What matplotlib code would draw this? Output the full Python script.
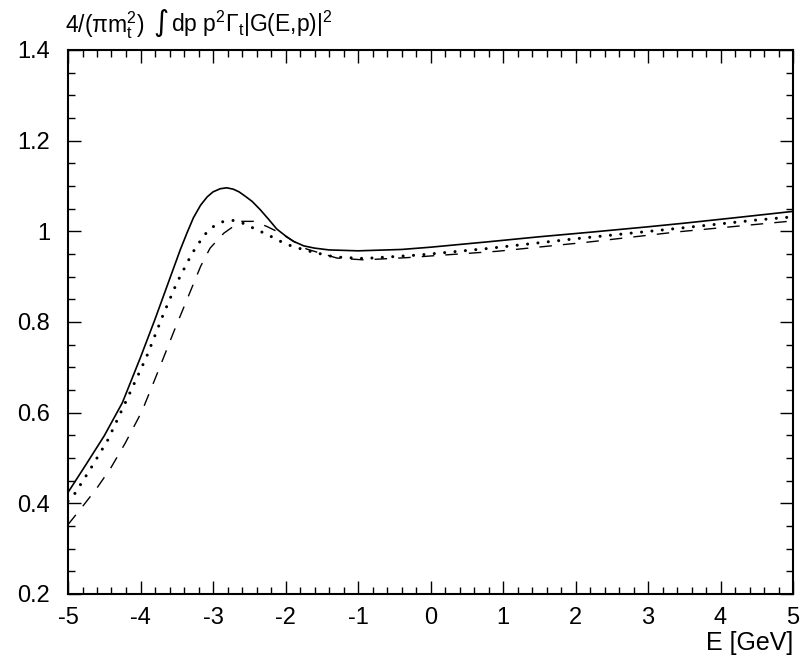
import matplotlib
matplotlib.use("Agg")
import matplotlib.pyplot as plt
from matplotlib.ticker import MultipleLocator, FuncFormatter

plt.rcParams['font.family'] = ['Liberation Sans', 'DejaVu Sans']
plt.rcParams['mathtext.fontset'] = 'custom'
plt.rcParams['mathtext.rm'] = 'Liberation Sans'
plt.rcParams['mathtext.it'] = 'Liberation Sans'
plt.rcParams['mathtext.sf'] = 'Liberation Sans'

# ---- data ----
solid_x = [-5.0, -4.75, -4.5, -4.25, -4.0, -3.8, -3.6, -3.45, -3.36, -3.27, -3.17, -3.08,
           -3.0, -2.9, -2.81, -2.72, -2.64, -2.56, -2.46, -2.35, -2.23, -2.12, -2.0, -1.89,
           -1.75, -1.6, -1.4, -1.0, -0.4, 0.0, 0.8, 1.5, 2.2, 3.0, 3.5, 4.2, 5.0]
solid_y = [0.424, 0.486, 0.549, 0.622, 0.722, 0.806, 0.894, 0.960, 0.996, 1.030, 1.058, 1.076,
           1.087, 1.094, 1.096, 1.093, 1.087, 1.078, 1.066, 1.048, 1.026, 1.005, 0.990, 0.978,
           0.968, 0.963, 0.959, 0.957, 0.960, 0.965, 0.977, 0.988, 0.998, 1.010, 1.018, 1.030, 1.044]

dot_x = [-5.0, -4.94, -4.69, -4.45, -4.18, -3.92, -3.69, -3.5, -3.29, -3.12, -3.0, -2.87,
         -2.72, -2.57, -2.43, -2.28, -2.14, -2.0, -1.72, -1.4, -1.27, -0.92, -0.14, 0.78,
         2.02, 3.26, 4.5, 5.0]
dot_y = [0.405, 0.413, 0.476, 0.540, 0.632, 0.722, 0.815, 0.886, 0.951, 0.992, 1.010, 1.021,
         1.024, 1.017, 1.006, 0.995, 0.984, 0.972, 0.958, 0.946, 0.943, 0.940, 0.948, 0.962,
         0.984, 1.004, 1.025, 1.032]

dash_x = [-5.0, -4.78, -4.6, -4.41, -4.21, -3.98, -3.73, -3.54, -3.36, -3.17, -3.04, -2.85,
          -2.62, -2.44, -2.26, -2.07, -1.89, -1.71, -1.52, -1.29, -0.92, -0.32, 0.92, 2.16,
          3.42, 5.0]
dash_y = [0.353, 0.397, 0.434, 0.478, 0.533, 0.603, 0.702, 0.779, 0.849, 0.923, 0.963, 0.996,
          1.022, 1.022, 1.011, 0.996, 0.978, 0.961, 0.952, 0.941, 0.937, 0.942, 0.956, 0.976,
          0.999, 1.023]

x_ticks = [-5, -4, -3, -2, -1, 0, 1, 2, 3, 4, 5]
y_ticks = [0.2, 0.4, 0.6, 0.8, 1.0, 1.2, 1.4]

title_left = r'4/($\pi$m$_\mathrm{t}^2$)'
title_int = '\u222b'
title_right = r'dp p$^2\Gamma_\mathrm{t}$|G(E,p)|$^2$'
x_label = 'E [GeV]'

# ---- figure ----
fig = plt.figure(figsize=(8.02, 6.59), dpi=100)
ax = fig.add_axes([68 / 802, 65 / 659, 725 / 802, 544 / 659])

ax.plot(solid_x, solid_y, color='black', lw=1.2, solid_joinstyle='round')
ax.plot(dash_x, dash_y, color='black', lw=1.0, linestyle=(0, (9, 8)))
ax.plot(dot_x, dot_y, color='black', lw=2.2, linestyle=(0, (0.01, 3.4)),
        dash_capstyle='round')

ax.set_xlim(-5, 5)
ax.set_ylim(0.2, 1.4)
ax.set_xticks(x_ticks)
ax.set_yticks(y_ticks)
ax.xaxis.set_minor_locator(MultipleLocator(0.2))
ax.yaxis.set_minor_locator(MultipleLocator(0.05))
ax.yaxis.set_major_formatter(FuncFormatter(lambda v, p: f'{v:g}'))
ax.xaxis.set_major_formatter(FuncFormatter(lambda v, p: f'{v:g}'))

ax.tick_params(which='both', direction='in', top=True, right=True, labelsize=17, width=1)
ax.tick_params(which='major', length=9.5)
ax.tick_params(which='minor', length=5)
ax.tick_params(axis='x', pad=9)
ax.tick_params(axis='y', pad=13)
for s in ax.spines.values():
    s.set_linewidth(1.5)

# title split in three so the integral sign can be taller
fig.text(65 / 802, 1 - 32 / 659, title_left, fontsize=16.5, ha='left', va='baseline')
fig.text(153 / 802, 1 - 31 / 659, title_int, fontsize=21, ha='left', va='baseline',
         family='DejaVu Sans')
fig.text(171 / 802, 1 - 32 / 659, title_right, fontsize=16.5, ha='left', va='baseline')
fig.text(793 / 802, 1 - 650 / 659, x_label, fontsize=18, ha='right', va='baseline')

fig.savefig('out.png', dpi=100)
